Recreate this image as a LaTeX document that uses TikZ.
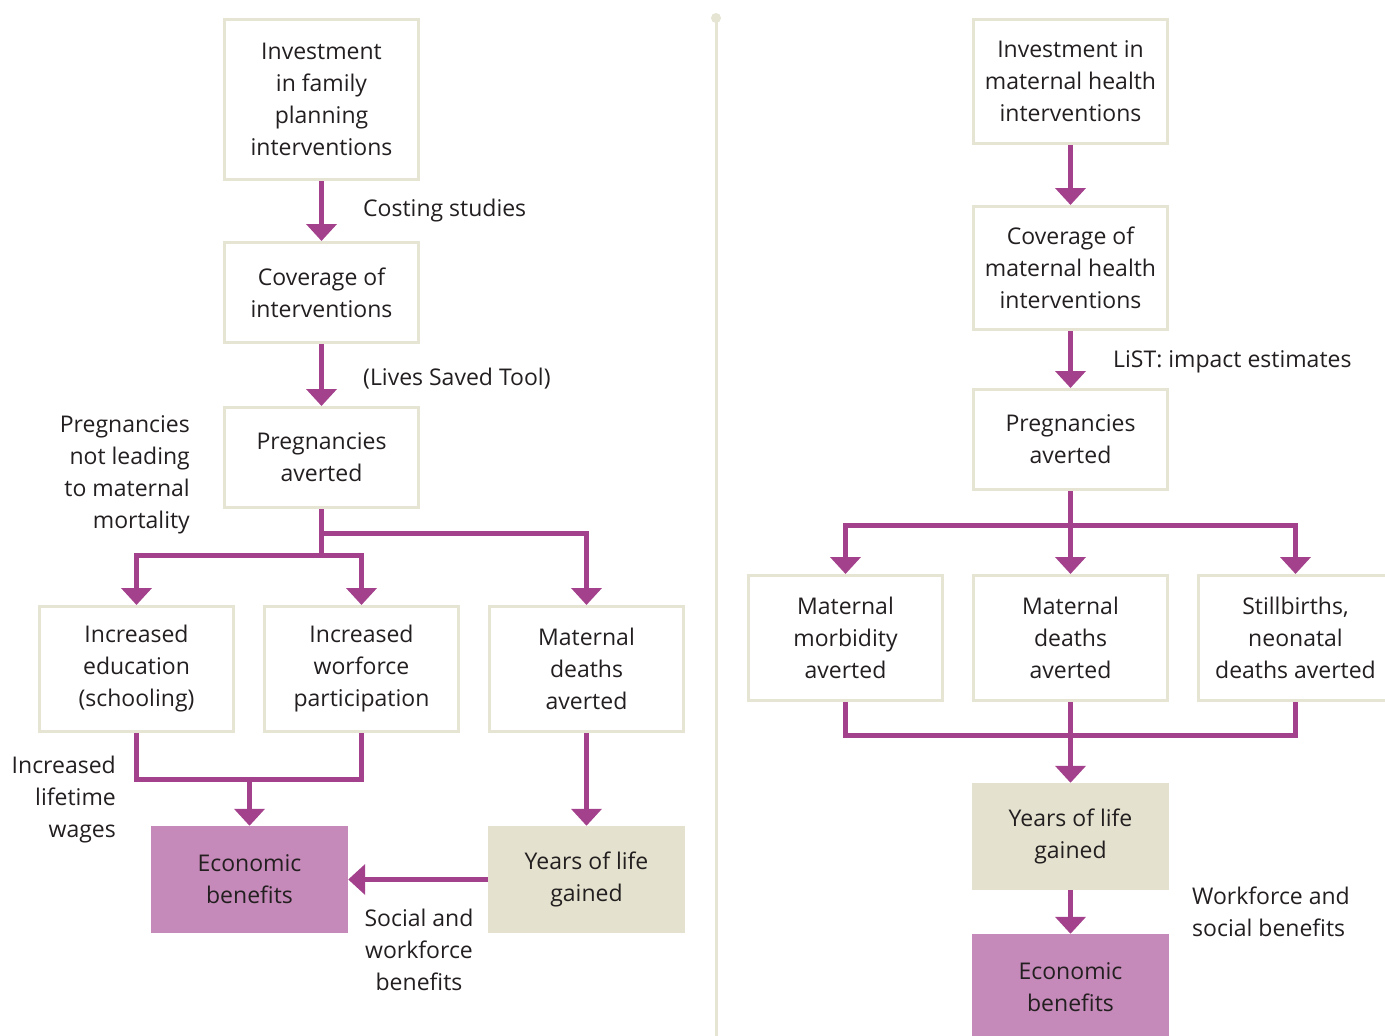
\documentclass[tikz,border=0pt]{standalone}
\usepackage{fontspec}
\setmainfont{Open Sans}[Ligatures=NoCommon]
\usetikzlibrary{arrows.meta}
\definecolor{plum}{HTML}{A3418C}
\definecolor{pinkfill}{HTML}{C58AB9}
\definecolor{beigefill}{HTML}{E4E2CE}
\definecolor{boxline}{HTML}{E6E4D3}
\definecolor{ink}{HTML}{231F20}
\begin{document}
\begin{tikzpicture}[x=1pt, y=-1pt, font=\fontsize{23}{32}\selectfont,
  box/.style={draw=boxline, line width=3pt, minimum width=194pt, align=center, text=ink},
  pinkbox/.style={fill=pinkfill, minimum width=197pt, minimum height=107pt, align=center, text=ink},
  beigebox/.style={fill=beigefill, minimum width=197pt, minimum height=107pt, align=center, text=ink},
  arr/.style={draw=plum, line width=5pt, -{Triangle[width=30pt,length=17pt]}},
  link/.style={draw=plum, line width=5pt},
  lbl/.style={inner sep=0pt, text=ink}]
\useasboundingbox (0,0) rectangle (1385,1036);
% divider
\draw[boxline, line width=3pt] (716,18) -- (716,1036);
\fill[boxline] (716,18) circle (5);
% left column
\node [box, minimum height=160pt] (invFP) at (321.5,99.5) {Investment\\in family\\planning\\interventions};
\node [box, minimum height=100pt] (covFP) at (321.5,292.5) {Coverage of\\interventions};
\node [box, minimum height=100pt] (pregFP) at (321.5,457.5) {Pregnancies\\averted};
\node [box, minimum height=125pt] (educ) at (136.5,669) {Increased\\education\\(schooling)};
\node [box, minimum height=125pt] (work) at (361.5,669) {Increased\\worforce\\participation};
\node [box, minimum height=125pt] (matFP) at (586.5,669) {Maternal\\deaths\\averted};
\node [pinkbox] (econFP) at (249.5,879.5) {Economic\\benefits};
\node [beigebox] (yearsFP) at (586.5,879.5) {Years of life\\gained};
\coordinate (splitA) at (321.5,555);
\coordinate (splitB) at (321.5,533);
\coordinate (joinFP) at (249.5,779);
\draw[arr] (invFP) -- (covFP);
\draw[arr] (covFP) -- (pregFP);
\draw[link] (pregFP.south) -- (splitA);
\draw[arr] (splitA) -| (educ.north);
\draw[arr] (splitA) -| (work.north);
\draw[arr] (splitB) -| (matFP.north);
\draw[link] (educ.south) |- (joinFP) -| (work.south);
\draw[arr] (joinFP) -- (econFP);
\draw[arr] (matFP) -- (yearsFP);
\draw[arr] (yearsFP) -- (econFP);
\node [lbl, anchor=west] (costing) at (363,211) {Costing studies};
\node [lbl, anchor=west] (lives) at (363,379) {(Lives Saved Tool)};
\node [lbl, anchor=east, align=right] (notLeading) at (190,475) {Pregnancies\\not leading\\to maternal\\mortality};
\node [lbl, anchor=east, align=right] (wages) at (116,800) {Increased\\lifetime\\wages};
\node [lbl, align=center] (social) at (419,950) {Social and\\workforce\\benefits};
% right column
\node [box, minimum height=124pt] (invMH) at (1070.5,81.5) {Investment in\\maternal health\\interventions};
\node [box, minimum height=123pt] (covMH) at (1070.5,268) {Coverage of\\maternal health\\interventions};
\node [box, minimum height=100pt] (pregMH) at (1070.5,439.5) {Pregnancies\\averted};
\node [box, minimum height=125pt] (morb) at (845.5,638) {Maternal\\morbidity\\averted};
\node [box, minimum height=125pt] (matMH) at (1070.5,638) {Maternal\\deaths\\averted};
\node [box, minimum height=125pt] (still) at (1295.5,638) {Stillbirths,\\neonatal\\deaths averted};
\node [beigebox] (yearsMH) at (1070.5,836.5) {Years of life\\gained};
\node [pinkbox] (econMH) at (1070.5,987.5) {Economic\\benefits};
\coordinate (splitMH) at (1070.5,525);
\coordinate (joinMH) at (1070.5,735);
\draw[arr] (invMH) -- (covMH);
\draw[arr] (covMH) -- (pregMH);
\draw[link] (pregMH.south) -- (splitMH);
\draw[arr] (splitMH) -| (morb.north);
\draw[arr] (splitMH) -- (matMH.north);
\draw[arr] (splitMH) -| (still.north);
\draw[link] (morb.south) |- (joinMH) -| (still.south);
\draw[arr] (matMH) -- (yearsMH);
\draw[arr] (yearsMH) -- (econMH);
\node [lbl, anchor=west] (list) at (1113,362) {LiST: impact estimates};
\node [lbl, anchor=west, align=left] (workforce) at (1192,912) {Workforce and\\social benefits};
\end{tikzpicture}
\end{document}
